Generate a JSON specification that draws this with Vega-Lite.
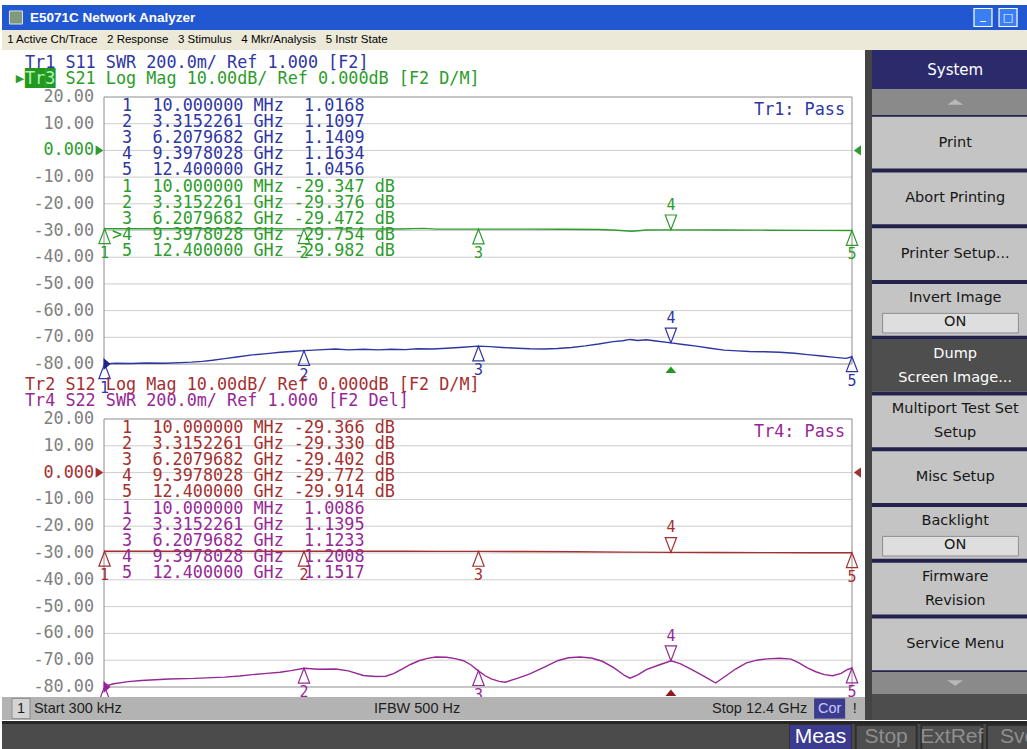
{
 "$schema": "https://vega.github.io/schema/vega-lite/v6.json",
 "background": "#ffffff",
 "padding": {"top": 5, "left": 0, "right": 0, "bottom": 0},
 "spacing": 0,
 "config": {"view": {"stroke": null}, "text": {"font": "DejaVu Sans"}},
 "datasets": {
  "one": [{"k": 1}],
  "grid": [{"v": 10}, {"v": 0}, {"v": -10}, {"v": -20}, {"v": -30}, {"v": -40}, {"v": -50}, {"v": -60}, {"v": -70}],
  "ylab": [{"v": 20, "lab": "20.00"}, {"v": 10, "lab": "10.00"}, {"v": 0, "lab": "0.000"}, {"v": -10, "lab": "-10.00"}, {"v": -20, "lab": "-20.00"}, {"v": -30, "lab": "-30.00"}, {"v": -40, "lab": "-40.00"}, {"v": -50, "lab": "-50.00"}, {"v": -60, "lab": "-60.00"}, {"v": -70, "lab": "-70.00"}, {"v": -80, "lab": "-80.00"}],
  "top": [
   {"tr":"Tr1","f":0.0003,"v":-80.0},{"tr":"Tr1","f":0.2,"v":-79.7},{"tr":"Tr1","f":0.45,"v":-79.8},{"tr":"Tr1","f":0.7,"v":-79.6},{"tr":"Tr1","f":1.0,"v":-79.7},{"tr":"Tr1","f":1.26,"v":-79.5},{"tr":"Tr1","f":1.45,"v":-79.3},{"tr":"Tr1","f":1.63,"v":-79.0},{"tr":"Tr1","f":1.8,"v":-78.6},{"tr":"Tr1","f":2.0,"v":-78.0},{"tr":"Tr1","f":2.2,"v":-77.4},{"tr":"Tr1","f":2.46,"v":-76.6},{"tr":"Tr1","f":2.7,"v":-76.1},{"tr":"Tr1","f":2.92,"v":-75.6},{"tr":"Tr1","f":3.1,"v":-75.3},{"tr":"Tr1","f":3.32,"v":-75.0},{"tr":"Tr1","f":3.55,"v":-74.7},{"tr":"Tr1","f":3.84,"v":-74.4},{"tr":"Tr1","f":4.05,"v":-74.7},{"tr":"Tr1","f":4.3,"v":-74.5},{"tr":"Tr1","f":4.55,"v":-74.7},{"tr":"Tr1","f":4.76,"v":-74.5},{"tr":"Tr1","f":5.0,"v":-74.6},{"tr":"Tr1","f":5.2,"v":-74.3},{"tr":"Tr1","f":5.45,"v":-74.4},{"tr":"Tr1","f":5.68,"v":-74.1},{"tr":"Tr1","f":5.95,"v":-73.7},{"tr":"Tr1","f":6.2,"v":-73.3},{"tr":"Tr1","f":6.4,"v":-73.5},{"tr":"Tr1","f":6.6,"v":-73.8},{"tr":"Tr1","f":6.85,"v":-74.1},{"tr":"Tr1","f":7.06,"v":-74.3},{"tr":"Tr1","f":7.3,"v":-74.4},{"tr":"Tr1","f":7.52,"v":-74.2},{"tr":"Tr1","f":7.75,"v":-73.8},{"tr":"Tr1","f":7.98,"v":-73.2},{"tr":"Tr1","f":8.2,"v":-72.5},{"tr":"Tr1","f":8.44,"v":-71.6},{"tr":"Tr1","f":8.6,"v":-71.3},{"tr":"Tr1","f":8.72,"v":-70.8},{"tr":"Tr1","f":8.85,"v":-71.2},{"tr":"Tr1","f":8.99,"v":-70.9},{"tr":"Tr1","f":9.15,"v":-71.4},{"tr":"Tr1","f":9.4,"v":-72.1},{"tr":"Tr1","f":9.6,"v":-72.7},{"tr":"Tr1","f":9.82,"v":-73.3},{"tr":"Tr1","f":10.05,"v":-74.1},{"tr":"Tr1","f":10.28,"v":-74.8},{"tr":"Tr1","f":10.5,"v":-75.1},{"tr":"Tr1","f":10.7,"v":-75.3},{"tr":"Tr1","f":10.95,"v":-75.4},{"tr":"Tr1","f":11.2,"v":-75.6},{"tr":"Tr1","f":11.45,"v":-76.0},{"tr":"Tr1","f":11.66,"v":-76.5},{"tr":"Tr1","f":11.9,"v":-77.0},{"tr":"Tr1","f":12.12,"v":-77.5},{"tr":"Tr1","f":12.3,"v":-77.9},{"tr":"Tr1","f":12.4,"v":-77.3},
   {"tr":"Tr3","f":0.0003,"v":-29.35},{"tr":"Tr3","f":0.8,"v":-29.36},{"tr":"Tr3","f":1.6,"v":-29.36},{"tr":"Tr3","f":2.4,"v":-29.37},{"tr":"Tr3","f":3.3152,"v":-29.38},{"tr":"Tr3","f":4.2,"v":-29.4},{"tr":"Tr3","f":4.9,"v":-29.45},{"tr":"Tr3","f":5.3,"v":-29.2},{"tr":"Tr3","f":5.5,"v":-29.5},{"tr":"Tr3","f":6.208,"v":-29.47},{"tr":"Tr3","f":7.0,"v":-29.5},{"tr":"Tr3","f":7.6,"v":-29.55},{"tr":"Tr3","f":8.2,"v":-29.6},{"tr":"Tr3","f":8.5,"v":-29.9},{"tr":"Tr3","f":8.75,"v":-30.3},{"tr":"Tr3","f":9.0,"v":-29.8},{"tr":"Tr3","f":9.3978,"v":-29.75},{"tr":"Tr3","f":10.2,"v":-29.8},{"tr":"Tr3","f":11.0,"v":-29.88},{"tr":"Tr3","f":11.8,"v":-29.94},{"tr":"Tr3","f":12.4,"v":-29.98}
  ],
  "bot": [
   {"tr":"Tr2","f":0.0003,"v":-29.37},{"tr":"Tr2","f":0.8,"v":-29.35},{"tr":"Tr2","f":1.6,"v":-29.34},{"tr":"Tr2","f":2.4,"v":-29.33},{"tr":"Tr2","f":3.3152,"v":-29.33},{"tr":"Tr2","f":4.2,"v":-29.34},{"tr":"Tr2","f":5.0,"v":-29.36},{"tr":"Tr2","f":5.6,"v":-29.38},{"tr":"Tr2","f":6.208,"v":-29.4},{"tr":"Tr2","f":7.0,"v":-29.45},{"tr":"Tr2","f":7.8,"v":-29.55},{"tr":"Tr2","f":8.6,"v":-29.68},{"tr":"Tr2","f":9.3978,"v":-29.77},{"tr":"Tr2","f":10.2,"v":-29.82},{"tr":"Tr2","f":11.0,"v":-29.86},{"tr":"Tr2","f":11.8,"v":-29.9},{"tr":"Tr2","f":12.4,"v":-29.91},
   {"tr":"Tr4","f":0.0003,"v":-79.8},{"tr":"Tr4","f":0.16,"v":-78.8},{"tr":"Tr4","f":0.4,"v":-78.0},{"tr":"Tr4","f":0.62,"v":-77.6},{"tr":"Tr4","f":0.85,"v":-77.3},{"tr":"Tr4","f":1.08,"v":-77.0},{"tr":"Tr4","f":1.5,"v":-76.8},{"tr":"Tr4","f":2.0,"v":-76.3},{"tr":"Tr4","f":2.25,"v":-75.9},{"tr":"Tr4","f":2.46,"v":-75.4},{"tr":"Tr4","f":2.7,"v":-74.9},{"tr":"Tr4","f":2.92,"v":-74.5},{"tr":"Tr4","f":3.1,"v":-73.9},{"tr":"Tr4","f":3.32,"v":-73.0},{"tr":"Tr4","f":3.55,"v":-73.4},{"tr":"Tr4","f":3.84,"v":-73.3},{"tr":"Tr4","f":4.05,"v":-74.0},{"tr":"Tr4","f":4.3,"v":-75.7},{"tr":"Tr4","f":4.5,"v":-76.1},{"tr":"Tr4","f":4.67,"v":-76.0},{"tr":"Tr4","f":4.8,"v":-75.0},{"tr":"Tr4","f":4.94,"v":-73.3},{"tr":"Tr4","f":5.08,"v":-71.6},{"tr":"Tr4","f":5.22,"v":-70.2},{"tr":"Tr4","f":5.36,"v":-69.3},{"tr":"Tr4","f":5.5,"v":-68.8},{"tr":"Tr4","f":5.68,"v":-68.9},{"tr":"Tr4","f":5.82,"v":-69.4},{"tr":"Tr4","f":5.96,"v":-70.2},{"tr":"Tr4","f":6.08,"v":-71.7},{"tr":"Tr4","f":6.2,"v":-73.9},{"tr":"Tr4","f":6.32,"v":-75.8},{"tr":"Tr4","f":6.42,"v":-77.0},{"tr":"Tr4","f":6.55,"v":-77.9},{"tr":"Tr4","f":6.65,"v":-78.2},{"tr":"Tr4","f":6.85,"v":-76.8},{"tr":"Tr4","f":7.06,"v":-75.1},{"tr":"Tr4","f":7.3,"v":-72.6},{"tr":"Tr4","f":7.52,"v":-70.2},{"tr":"Tr4","f":7.7,"v":-69.1},{"tr":"Tr4","f":7.89,"v":-68.8},{"tr":"Tr4","f":8.08,"v":-69.2},{"tr":"Tr4","f":8.26,"v":-70.4},{"tr":"Tr4","f":8.45,"v":-72.8},{"tr":"Tr4","f":8.63,"v":-75.7},{"tr":"Tr4","f":8.72,"v":-76.7},{"tr":"Tr4","f":8.85,"v":-75.5},{"tr":"Tr4","f":8.99,"v":-73.5},{"tr":"Tr4","f":9.2,"v":-71.8},{"tr":"Tr4","f":9.4,"v":-70.2},{"tr":"Tr4","f":9.55,"v":-71.3},{"tr":"Tr4","f":9.73,"v":-73.3},{"tr":"Tr4","f":9.95,"v":-76.0},{"tr":"Tr4","f":10.14,"v":-78.5},{"tr":"Tr4","f":10.3,"v":-76.0},{"tr":"Tr4","f":10.47,"v":-73.3},{"tr":"Tr4","f":10.65,"v":-71.0},{"tr":"Tr4","f":10.84,"v":-69.9},{"tr":"Tr4","f":11.0,"v":-69.5},{"tr":"Tr4","f":11.2,"v":-69.3},{"tr":"Tr4","f":11.39,"v":-69.6},{"tr":"Tr4","f":11.52,"v":-71.0},{"tr":"Tr4","f":11.66,"v":-72.9},{"tr":"Tr4","f":11.8,"v":-74.3},{"tr":"Tr4","f":11.94,"v":-75.4},{"tr":"Tr4","f":12.08,"v":-75.8},{"tr":"Tr4","f":12.22,"v":-74.9},{"tr":"Tr4","f":12.32,"v":-73.5},{"tr":"Tr4","f":12.4,"v":-72.9}
  ],
  "mk_top": [
   {"tr":"Tr1","n":"1","f":0.01,"v":-79.9,"dir":"up"},{"tr":"Tr1","n":"2","f":3.3152,"v":-75.0,"dir":"up"},{"tr":"Tr1","n":"3","f":6.208,"v":-73.3,"dir":"up"},{"tr":"Tr1","n":"4","f":9.3978,"v":-72.1,"dir":"down"},{"tr":"Tr1","n":"5","f":12.4,"v":-77.3,"dir":"up"},
   {"tr":"Tr3","n":"1","f":0.01,"v":-29.35,"dir":"up"},{"tr":"Tr3","n":"2","f":3.3152,"v":-29.38,"dir":"up"},{"tr":"Tr3","n":"3","f":6.208,"v":-29.47,"dir":"up"},{"tr":"Tr3","n":"4","f":9.3978,"v":-29.75,"dir":"down"},{"tr":"Tr3","n":"5","f":12.4,"v":-29.98,"dir":"up"}
  ],
  "mk_bot": [
   {"tr":"Tr2","n":"1","f":0.01,"v":-29.37,"dir":"up"},{"tr":"Tr2","n":"2","f":3.3152,"v":-29.33,"dir":"up"},{"tr":"Tr2","n":"3","f":6.208,"v":-29.4,"dir":"up"},{"tr":"Tr2","n":"4","f":9.3978,"v":-29.77,"dir":"down"},{"tr":"Tr2","n":"5","f":12.4,"v":-29.91,"dir":"up"},
   {"tr":"Tr4","n":"1","f":0.01,"v":-79.8,"dir":"up"},{"tr":"Tr4","n":"2","f":3.3152,"v":-73.0,"dir":"up"},{"tr":"Tr4","n":"3","f":6.208,"v":-73.9,"dir":"up"},{"tr":"Tr4","n":"4","f":9.3978,"v":-70.2,"dir":"down"},{"tr":"Tr4","n":"5","f":12.4,"v":-72.9,"dir":"up"}
  ],
  "tab_top": [
   {"row":1,"tr":"Tr1","text":"\u200b\u00a01\u00a0\u00a010.000000\u00a0MHz\u00a0\u00a01.0168"},
   {"row":2,"tr":"Tr1","text":"\u200b\u00a02\u00a0\u00a03.3152261\u00a0GHz\u00a0\u00a01.1097"},
   {"row":3,"tr":"Tr1","text":"\u200b\u00a03\u00a0\u00a06.2079682\u00a0GHz\u00a0\u00a01.1409"},
   {"row":4,"tr":"Tr1","text":"\u200b\u00a04\u00a0\u00a09.3978028\u00a0GHz\u00a0\u00a01.1634"},
   {"row":5,"tr":"Tr1","text":"\u200b\u00a05\u00a0\u00a012.400000\u00a0GHz\u00a0\u00a01.0456"},
   {"row":6,"tr":"Tr3","text":"\u200b\u00a01\u00a0\u00a010.000000\u00a0MHz\u00a0-29.347\u00a0dB"},
   {"row":7,"tr":"Tr3","text":"\u200b\u00a02\u00a0\u00a03.3152261\u00a0GHz\u00a0-29.376\u00a0dB"},
   {"row":8,"tr":"Tr3","text":"\u200b\u00a03\u00a0\u00a06.2079682\u00a0GHz\u00a0-29.472\u00a0dB"},
   {"row":9,"tr":"Tr3","text":">4\u00a0\u00a09.3978028\u00a0GHz\u00a0-29.754\u00a0dB"},
   {"row":10,"tr":"Tr3","text":"\u200b\u00a05\u00a0\u00a012.400000\u00a0GHz\u00a0-29.982\u00a0dB"}
  ],
  "tab_bot": [
   {"row":1,"tr":"Tr2","text":"\u200b\u00a01\u00a0\u00a010.000000\u00a0MHz\u00a0-29.366\u00a0dB"},
   {"row":2,"tr":"Tr2","text":"\u200b\u00a02\u00a0\u00a03.3152261\u00a0GHz\u00a0-29.330\u00a0dB"},
   {"row":3,"tr":"Tr2","text":"\u200b\u00a03\u00a0\u00a06.2079682\u00a0GHz\u00a0-29.402\u00a0dB"},
   {"row":4,"tr":"Tr2","text":"\u200b\u00a04\u00a0\u00a09.3978028\u00a0GHz\u00a0-29.772\u00a0dB"},
   {"row":5,"tr":"Tr2","text":"\u200b\u00a05\u00a0\u00a012.400000\u00a0GHz\u00a0-29.914\u00a0dB"},
   {"row":6,"tr":"Tr4","text":"\u200b\u00a01\u00a0\u00a010.000000\u00a0MHz\u00a0\u00a01.0086"},
   {"row":7,"tr":"Tr4","text":"\u200b\u00a02\u00a0\u00a03.3152261\u00a0GHz\u00a0\u00a01.1395"},
   {"row":8,"tr":"Tr4","text":"\u200b\u00a03\u00a0\u00a06.2079682\u00a0GHz\u00a0\u00a01.1233"},
   {"row":9,"tr":"Tr4","text":"\u200b\u00a04\u00a0\u00a09.3978028\u00a0GHz\u00a0\u00a01.2008"},
   {"row":10,"tr":"Tr4","text":"\u200b\u00a05\u00a0\u00a012.400000\u00a0GHz\u00a0\u00a01.1517"}
  ],
  "hdr1": [
   {"line":1,"tr":"Tr1","text":"Tr1\u00a0S11\u00a0SWR\u00a0200.0m/\u00a0Ref\u00a01.000\u00a0[F2]"},
   {"line":2,"tr":"Tr3","text":"\u200b\u00a0\u00a0\u00a0\u00a0S21\u00a0Log\u00a0Mag\u00a010.00dB/\u00a0Ref\u00a00.000dB\u00a0[F2\u00a0D/M]"}
  ],
  "hdr2": [
   {"line":1,"tr":"Tr2","text":"Tr2\u00a0S12\u00a0Log\u00a0Mag\u00a010.00dB/\u00a0Ref\u00a00.000dB\u00a0[F2\u00a0D/M]"},
   {"line":2,"tr":"Tr4","text":"Tr4\u00a0S22\u00a0SWR\u00a0200.0m/\u00a0Ref\u00a01.000\u00a0[F2\u00a0Del]"}
  ],
  "keys": [
   {"key":"k01","label":"Print","state":"normal","toggle":""},
   {"key":"k02","label":"Abort Printing","state":"normal","toggle":""},
   {"key":"k03","label":"Printer Setup...","state":"normal","toggle":""},
   {"key":"k04","label":"Invert Image\nON","state":"normal","toggle":"ON"},
   {"key":"k05","label":"Dump\nScreen Image...","state":"selected","toggle":""},
   {"key":"k06","label":"Multiport Test Set\nSetup","state":"normal","toggle":""},
   {"key":"k07","label":"Misc Setup","state":"normal","toggle":""},
   {"key":"k08","label":"Backlight\nON","state":"normal","toggle":"ON"},
   {"key":"k09","label":"Firmware\nRevision","state":"normal","toggle":""},
   {"key":"k10","label":"Service Menu","state":"normal","toggle":""}
  ],
  "bb": [{"item":"Meas"},{"item":"Stop"},{"item":"ExtRef"},{"item":"Svc"}]
 },
 "vconcat": [
  {
   "width": 1027, "height": 25,
   "view": {"fill": "#2157d0", "stroke": null},
   "data": {"name": "one"},
   "layer": [
    {"mark": {"type": "point", "shape": "square", "size": 170, "filled": true, "fill": "#7e9a7a", "stroke": "#e0e0e0", "strokeWidth": 1, "opacity": 1},
     "encoding": {"x": {"datum": 0.0136, "type": "quantitative", "scale": {"domain": [0, 1], "nice": false, "zero": false}, "axis": null}, "y": {"datum": 0.5, "type": "quantitative", "scale": {"domain": [0, 1], "nice": false, "zero": false}, "axis": null}}},
    {"mark": {"type": "text", "align": "left", "baseline": "middle", "font": "Liberation Sans", "fontWeight": "bold", "fontSize": 13.5, "fill": "#ffffff"},
     "encoding": {"x": {"datum": 0.0273, "type": "quantitative", "axis": null}, "y": {"datum": 0.5, "type": "quantitative", "axis": null}, "text": {"value": "E5071C Network Analyzer"}}},
    {"mark": {"type": "point", "shape": "square", "size": 324, "filled": true, "fill": "#3a7ef4", "stroke": "#ffffff", "strokeWidth": 1.2, "opacity": 1},
     "encoding": {"x": {"datum": 0.9552, "type": "quantitative", "axis": null}, "y": {"datum": 0.5, "type": "quantitative", "axis": null}}},
    {"mark": {"type": "point", "shape": "square", "size": 324, "filled": true, "fill": "#3a7ef4", "stroke": "#ffffff", "strokeWidth": 1.2, "opacity": 1},
     "encoding": {"x": {"datum": 0.9796, "type": "quantitative", "axis": null}, "y": {"datum": 0.5, "type": "quantitative", "axis": null}}},
    {"mark": {"type": "text", "align": "center", "baseline": "middle", "font": "DejaVu Sans", "fontWeight": "bold", "fontSize": 11, "fill": "#ffffff", "dy": -2},
     "encoding": {"x": {"datum": 0.9552, "type": "quantitative", "axis": null}, "y": {"datum": 0.5, "type": "quantitative", "axis": null}, "text": {"value": "_"}}},
    {"mark": {"type": "text", "align": "center", "baseline": "middle", "font": "DejaVu Sans", "fontSize": 11, "fill": "#ffffff"},
     "encoding": {"x": {"datum": 0.9796, "type": "quantitative", "axis": null}, "y": {"datum": 0.5, "type": "quantitative", "axis": null}, "text": {"value": "□"}}}
   ]
  },
  {
   "width": 1027, "height": 20,
   "view": {"fill": "#ece9d8", "stroke": null},
   "data": {"name": "one"},
   "mark": {"type": "text", "align": "left", "baseline": "middle", "font": "Liberation Sans", "fontSize": 11.5, "fill": "#000000"},
   "encoding": {"x": {"datum": 0.005, "type": "quantitative", "scale": {"domain": [0, 1], "nice": false, "zero": false}, "axis": null}, "y": {"datum": 0.5, "type": "quantitative", "scale": {"domain": [0, 1], "nice": false, "zero": false}, "axis": null}, "text": {"value": "1 Active Ch/Trace\u00a0\u00a0\u00a02 Response\u00a0\u00a0\u00a03 Stimulus\u00a0\u00a0\u00a04 Mkr/Analysis\u00a0\u00a0\u00a05 Instr State"}}
  },
  {
   "spacing": 0,
   "hconcat": [
    {
     "spacing": 0,
     "bounds": "flush",
     "vconcat": [
      {
       "width": 863, "height": 47,
       "data": {"name": "hdr1"},
       "layer": [
        {"transform": [{"filter": "datum.tr === 'Tr3'"}],
         "mark": {"type": "text", "align": "left", "baseline": "middle", "font": "DejaVu Sans Mono", "fontSize": 16.8, "fill": "#1f991f"},
         "encoding": {"x": {"datum": 0, "type": "quantitative", "scale": {"domain": [0, 80], "range": [23, 831.8], "nice": false, "zero": false}, "axis": null}, "y": {"field": "line", "type": "ordinal", "scale": {"type": "point", "domain": [1, 2], "range": [4.5, 36.5], "padding": 0.5}, "axis": null}, "text": {"value": "███"}}},
        {"mark": {"type": "text", "align": "left", "baseline": "middle", "font": "DejaVu Sans Mono", "fontSize": 16.8},
         "encoding": {"x": {"datum": 0, "type": "quantitative", "scale": {"domain": [0, 80], "range": [23, 831.8], "nice": false, "zero": false}, "axis": null}, "y": {"field": "line", "type": "ordinal", "scale": {"type": "point", "domain": [1, 2], "range": [4.5, 36.5], "padding": 0.5}, "axis": null}, "text": {"field": "text"}, "color": {"field": "tr", "type": "nominal", "scale": {"domain": ["Tr1", "Tr2", "Tr3", "Tr4"], "range": ["#2e36a3", "#a52f2f", "#2c9c2c", "#962896"]}, "legend": null}}},
        {"transform": [{"filter": "datum.tr === 'Tr3'"}],
         "mark": {"type": "text", "align": "left", "baseline": "middle", "font": "DejaVu Sans Mono", "fontSize": 16.8, "fill": "#b6f0b6"},
         "encoding": {"x": {"datum": 0, "type": "quantitative", "axis": null}, "y": {"field": "line", "type": "ordinal", "axis": null}, "text": {"field": "tr"}}},
        {"transform": [{"filter": "datum.tr === 'Tr3'"}],
         "mark": {"type": "text", "align": "center", "baseline": "middle", "font": "DejaVu Sans", "fontSize": 11, "fill": "#2c9c2c"},
         "encoding": {"x": {"datum": -0.5, "type": "quantitative", "axis": null}, "y": {"field": "line", "type": "ordinal", "axis": null}, "text": {"value": "▶"}}}
       ]
      },
      {
       "width": 863, "height": 267,
       "resolve": {"scale": {"y": "independent"}},
       "layer": [
        {
         "layer": [
          {"data": {"name": "grid"}, "mark": {"type": "rule", "stroke": "#cdcdcd", "strokeWidth": 1},
           "encoding": {"x": {"datum": 0.0003, "type": "quantitative", "scale": {"domain": [0.0003, 12.4], "range": [102, 850], "nice": false, "zero": false}, "axis": null}, "x2": {"datum": 12.4}, "y": {"field": "v", "type": "quantitative", "scale": {"domain": [-80, 20], "nice": false, "zero": false}, "axis": null}}},
          {"data": {"name": "one"}, "mark": {"type": "rect", "fill": "transparent", "stroke": "#8c8c8c", "strokeWidth": 1},
           "encoding": {"x": {"datum": 0.0003, "type": "quantitative", "axis": null}, "x2": {"datum": 12.4}, "y": {"datum": -80, "type": "quantitative", "axis": null}, "y2": {"datum": 20}}},
          {"data": {"name": "ylab"}, "transform": [{"filter": "datum.v !== 0"}], "mark": {"type": "text", "align": "right", "baseline": "middle", "font": "DejaVu Sans Mono", "fontSize": 16.8, "fill": "#808080", "dx": -10},
           "encoding": {"x": {"datum": 0.0003, "type": "quantitative", "axis": null}, "y": {"field": "v", "type": "quantitative", "axis": null}, "text": {"field": "lab"}}},
          {"data": {"name": "ylab"}, "transform": [{"filter": "datum.v === 0"}], "mark": {"type": "text", "align": "right", "baseline": "middle", "font": "DejaVu Sans Mono", "fontSize": 16.8, "fill": "#2c9c2c", "dx": -10},
           "encoding": {"x": {"datum": 0.0003, "type": "quantitative", "axis": null}, "y": {"field": "v", "type": "quantitative", "axis": null}, "text": {"field": "lab"}}},
          {"data": {"name": "top"}, "mark": {"type": "line", "strokeWidth": 1.4},
           "encoding": {
            "x": {"field": "f", "type": "quantitative", "scale": {"domain": [0.0003, 12.4], "range": [102, 850], "nice": false, "zero": false}, "axis": {"values": [1.24, 2.48, 3.72, 4.96, 6.2, 7.44, 8.68, 9.92, 11.16], "grid": true, "gridColor": "#cdcdcd", "gridWidth": 1, "labels": false, "ticks": false, "domain": false, "title": null}},
            "y": {"field": "v", "type": "quantitative", "scale": {"domain": [-80, 20], "nice": false, "zero": false}, "axis": null},
            "color": {"field": "tr", "type": "nominal", "scale": {"domain": ["Tr1", "Tr2", "Tr3", "Tr4"], "range": ["#2e36a3", "#a52f2f", "#2c9c2c", "#962896"]}, "legend": null}}},
          {"data": {"name": "mk_top"}, "transform": [{"filter": "datum.dir === 'up'"}],
           "mark": {"type": "point", "shape": "M0,0L-0.42,1.1L0.42,1.1Z", "size": 729, "filled": false, "strokeWidth": 1.2, "opacity": 1},
           "encoding": {"x": {"field": "f", "type": "quantitative", "axis": null}, "y": {"field": "v", "type": "quantitative", "axis": null}, "color": {"field": "tr", "type": "nominal", "legend": null}}},
          {"data": {"name": "mk_top"}, "transform": [{"filter": "datum.dir === 'down'"}],
           "mark": {"type": "point", "shape": "M0,0L-0.42,-1.1L0.42,-1.1Z", "size": 729, "filled": false, "strokeWidth": 1.2, "opacity": 1},
           "encoding": {"x": {"field": "f", "type": "quantitative", "axis": null}, "y": {"field": "v", "type": "quantitative", "axis": null}, "color": {"field": "tr", "type": "nominal", "legend": null}}},
          {"data": {"name": "mk_top"}, "transform": [{"filter": "datum.dir === 'up'"}],
           "mark": {"type": "text", "font": "DejaVu Sans Mono", "fontSize": 15, "align": "center", "baseline": "middle", "dy": 24},
           "encoding": {"x": {"field": "f", "type": "quantitative", "axis": null}, "y": {"field": "v", "type": "quantitative", "axis": null}, "text": {"field": "n"}, "color": {"field": "tr", "type": "nominal", "legend": null}}},
          {"data": {"name": "mk_top"}, "transform": [{"filter": "datum.dir === 'down'"}],
           "mark": {"type": "text", "font": "DejaVu Sans Mono", "fontSize": 15, "align": "center", "baseline": "middle", "dy": -25},
           "encoding": {"x": {"field": "f", "type": "quantitative", "axis": null}, "y": {"field": "v", "type": "quantitative", "axis": null}, "text": {"field": "n"}, "color": {"field": "tr", "type": "nominal", "legend": null}}},
          {"data": {"name": "one"}, "mark": {"type": "point", "shape": "M0,0.2L-0.45,0.75L0.45,0.75Z", "size": 576, "filled": true, "fill": "#1f9a1f", "strokeWidth": 0, "opacity": 1},
           "encoding": {"x": {"datum": 9.3978, "type": "quantitative", "axis": null}, "y": {"datum": -80, "type": "quantitative", "axis": null}}},
          {"data": {"name": "one"}, "mark": {"type": "point", "shape": "M-0.05,-0.6L0.65,0L-0.05,0.6Z", "size": 400, "filled": true, "fill": "#1e2488", "strokeWidth": 0, "opacity": 1},
           "encoding": {"x": {"datum": 0.0003, "type": "quantitative", "axis": null}, "y": {"datum": -80, "type": "quantitative", "axis": null}}},
          {"data": {"name": "one"}, "mark": {"type": "point", "shape": "M-1.4,-0.85L-0.1,0L-1.4,0.85Z", "size": 144, "filled": true, "fill": "#2c9c2c", "strokeWidth": 0, "opacity": 1},
           "encoding": {"x": {"datum": 0.0003, "type": "quantitative", "axis": null}, "y": {"datum": 0, "type": "quantitative", "axis": null}}},
          {"data": {"name": "one"}, "mark": {"type": "point", "shape": "M1.5,-0.85L0.3,0L1.5,0.85Z", "size": 144, "filled": true, "fill": "#2c9c2c", "strokeWidth": 0, "opacity": 1},
           "encoding": {"x": {"datum": 12.4, "type": "quantitative", "axis": null}, "y": {"datum": 0, "type": "quantitative", "axis": null}}},
          {"data": {"values": [{"tr": "Tr1", "t": "Tr1: Pass"}]}, "mark": {"type": "text", "align": "right", "baseline": "middle", "font": "DejaVu Sans Mono", "fontSize": 16.8, "dx": -7, "dy": 13},
           "encoding": {"x": {"datum": 12.4, "type": "quantitative", "axis": null}, "y": {"datum": 20, "type": "quantitative", "axis": null}, "text": {"field": "t"}, "color": {"field": "tr", "type": "nominal", "legend": null}}}
         ]
        },
        {"data": {"name": "tab_top"},
         "mark": {"type": "text", "align": "left", "baseline": "middle", "font": "DejaVu Sans Mono", "fontSize": 16.8, "dx": 8},
         "encoding": {"x": {"datum": 0.0003, "type": "quantitative", "axis": null}, "y": {"field": "row", "type": "ordinal", "scale": {"type": "point", "domain": [1, 2, 3, 4, 5, 6, 7, 8, 9, 10], "range": [1, 162], "padding": 0.5}, "axis": null}, "text": {"field": "text"}, "color": {"field": "tr", "type": "nominal", "legend": null}}}
       ]
      },
      {
       "width": 863, "height": 55,
       "data": {"name": "hdr2"},
       "mark": {"type": "text", "align": "left", "baseline": "middle", "font": "DejaVu Sans Mono", "fontSize": 16.8},
       "encoding": {"x": {"datum": 0, "type": "quantitative", "scale": {"domain": [0, 80], "range": [23, 831.8], "nice": false, "zero": false}, "axis": null}, "y": {"field": "line", "type": "ordinal", "scale": {"type": "point", "domain": [1, 2], "range": [13, 45], "padding": 0.5}, "axis": null}, "text": {"field": "text"}, "color": {"field": "tr", "type": "nominal", "scale": {"domain": ["Tr1", "Tr2", "Tr3", "Tr4"], "range": ["#2e36a3", "#a52f2f", "#2c9c2c", "#962896"]}, "legend": null}}
      },
      {
       "width": 863, "height": 268,
       "resolve": {"scale": {"y": "independent"}},
       "layer": [
        {
         "layer": [
          {"data": {"name": "grid"}, "mark": {"type": "rule", "stroke": "#cdcdcd", "strokeWidth": 1},
           "encoding": {"x": {"datum": 0.0003, "type": "quantitative", "scale": {"domain": [0.0003, 12.4], "range": [102, 850], "nice": false, "zero": false}, "axis": null}, "x2": {"datum": 12.4}, "y": {"field": "v", "type": "quantitative", "scale": {"domain": [-80, 20], "nice": false, "zero": false}, "axis": null}}},
          {"data": {"name": "one"}, "mark": {"type": "rect", "fill": "transparent", "stroke": "#8c8c8c", "strokeWidth": 1},
           "encoding": {"x": {"datum": 0.0003, "type": "quantitative", "axis": null}, "x2": {"datum": 12.4}, "y": {"datum": -80, "type": "quantitative", "axis": null}, "y2": {"datum": 20}}},
          {"data": {"name": "ylab"}, "transform": [{"filter": "datum.v !== 0"}], "mark": {"type": "text", "align": "right", "baseline": "middle", "font": "DejaVu Sans Mono", "fontSize": 16.8, "fill": "#808080", "dx": -10},
           "encoding": {"x": {"datum": 0.0003, "type": "quantitative", "axis": null}, "y": {"field": "v", "type": "quantitative", "axis": null}, "text": {"field": "lab"}}},
          {"data": {"name": "ylab"}, "transform": [{"filter": "datum.v === 0"}], "mark": {"type": "text", "align": "right", "baseline": "middle", "font": "DejaVu Sans Mono", "fontSize": 16.8, "fill": "#a52f2f", "dx": -10},
           "encoding": {"x": {"datum": 0.0003, "type": "quantitative", "axis": null}, "y": {"field": "v", "type": "quantitative", "axis": null}, "text": {"field": "lab"}}},
          {"data": {"name": "bot"}, "mark": {"type": "line", "strokeWidth": 1.4},
           "encoding": {
            "x": {"field": "f", "type": "quantitative", "scale": {"domain": [0.0003, 12.4], "range": [102, 850], "nice": false, "zero": false}, "axis": {"values": [1.24, 2.48, 3.72, 4.96, 6.2, 7.44, 8.68, 9.92, 11.16], "grid": true, "gridColor": "#cdcdcd", "gridWidth": 1, "labels": false, "ticks": false, "domain": false, "title": null}},
            "y": {"field": "v", "type": "quantitative", "scale": {"domain": [-80, 20], "nice": false, "zero": false}, "axis": null},
            "color": {"field": "tr", "type": "nominal", "scale": {"domain": ["Tr1", "Tr2", "Tr3", "Tr4"], "range": ["#2e36a3", "#a52f2f", "#2c9c2c", "#962896"]}, "legend": null}}},
          {"data": {"name": "mk_bot"}, "transform": [{"filter": "datum.dir === 'up'"}],
           "mark": {"type": "point", "shape": "M0,0L-0.42,1.1L0.42,1.1Z", "size": 729, "filled": false, "strokeWidth": 1.2, "opacity": 1},
           "encoding": {"x": {"field": "f", "type": "quantitative", "axis": null}, "y": {"field": "v", "type": "quantitative", "axis": null}, "color": {"field": "tr", "type": "nominal", "legend": null}}},
          {"data": {"name": "mk_bot"}, "transform": [{"filter": "datum.dir === 'down'"}],
           "mark": {"type": "point", "shape": "M0,0L-0.42,-1.1L0.42,-1.1Z", "size": 729, "filled": false, "strokeWidth": 1.2, "opacity": 1},
           "encoding": {"x": {"field": "f", "type": "quantitative", "axis": null}, "y": {"field": "v", "type": "quantitative", "axis": null}, "color": {"field": "tr", "type": "nominal", "legend": null}}},
          {"data": {"name": "mk_bot"}, "transform": [{"filter": "datum.dir === 'up'"}],
           "mark": {"type": "text", "font": "DejaVu Sans Mono", "fontSize": 15, "align": "center", "baseline": "middle", "dy": 24},
           "encoding": {"x": {"field": "f", "type": "quantitative", "axis": null}, "y": {"field": "v", "type": "quantitative", "axis": null}, "text": {"field": "n"}, "color": {"field": "tr", "type": "nominal", "legend": null}}},
          {"data": {"name": "mk_bot"}, "transform": [{"filter": "datum.dir === 'down'"}],
           "mark": {"type": "text", "font": "DejaVu Sans Mono", "fontSize": 15, "align": "center", "baseline": "middle", "dy": -25},
           "encoding": {"x": {"field": "f", "type": "quantitative", "axis": null}, "y": {"field": "v", "type": "quantitative", "axis": null}, "text": {"field": "n"}, "color": {"field": "tr", "type": "nominal", "legend": null}}},
          {"data": {"name": "one"}, "mark": {"type": "point", "shape": "M0,0.2L-0.45,0.75L0.45,0.75Z", "size": 576, "filled": true, "fill": "#8e1c1c", "strokeWidth": 0, "opacity": 1},
           "encoding": {"x": {"datum": 9.3978, "type": "quantitative", "axis": null}, "y": {"datum": -80, "type": "quantitative", "axis": null}}},
          {"data": {"name": "one"}, "mark": {"type": "point", "shape": "M-0.05,-0.6L0.65,0L-0.05,0.6Z", "size": 400, "filled": true, "fill": "#9a1f9a", "strokeWidth": 0, "opacity": 1},
           "encoding": {"x": {"datum": 0.0003, "type": "quantitative", "axis": null}, "y": {"datum": -80, "type": "quantitative", "axis": null}}},
          {"data": {"name": "one"}, "mark": {"type": "point", "shape": "M-1.4,-0.85L-0.1,0L-1.4,0.85Z", "size": 144, "filled": true, "fill": "#a52f2f", "strokeWidth": 0, "opacity": 1},
           "encoding": {"x": {"datum": 0.0003, "type": "quantitative", "axis": null}, "y": {"datum": 0, "type": "quantitative", "axis": null}}},
          {"data": {"name": "one"}, "mark": {"type": "point", "shape": "M1.5,-0.85L0.3,0L1.5,0.85Z", "size": 144, "filled": true, "fill": "#a52f2f", "strokeWidth": 0, "opacity": 1},
           "encoding": {"x": {"datum": 12.4, "type": "quantitative", "axis": null}, "y": {"datum": 0, "type": "quantitative", "axis": null}}},
          {"data": {"values": [{"tr": "Tr4", "t": "Tr4: Pass"}]}, "mark": {"type": "text", "align": "right", "baseline": "middle", "font": "DejaVu Sans Mono", "fontSize": 16.8, "dx": -7, "dy": 13},
           "encoding": {"x": {"datum": 12.4, "type": "quantitative", "axis": null}, "y": {"datum": 20, "type": "quantitative", "axis": null}, "text": {"field": "t"}, "color": {"field": "tr", "type": "nominal", "legend": null}}}
         ]
        },
        {"data": {"name": "tab_bot"},
         "mark": {"type": "text", "align": "left", "baseline": "middle", "font": "DejaVu Sans Mono", "fontSize": 16.8, "dx": 8},
         "encoding": {"x": {"datum": 0.0003, "type": "quantitative", "axis": null}, "y": {"field": "row", "type": "ordinal", "scale": {"type": "point", "domain": [1, 2, 3, 4, 5, 6, 7, 8, 9, 10], "range": [1, 162], "padding": 0.5}, "axis": null}, "text": {"field": "text"}, "color": {"field": "tr", "type": "nominal", "legend": null}}}
       ]
      },
      {
       "width": 863, "height": 10,
       "data": {"name": "one"},
       "mark": {"type": "text"},
       "encoding": {"text": {"value": ""}}
      },
      {
       "width": 863, "height": 23,
       "view": {"fill": "#b3b3b3", "stroke": null},
       "data": {"name": "one"},
       "layer": [
        {"mark": {"type": "rect", "fill": "#d4d4d4", "stroke": "#8e8e8e", "strokeWidth": 1},
         "encoding": {"x": {"datum": 0.0116, "type": "quantitative", "scale": {"domain": [0, 1], "nice": false, "zero": false}, "axis": null}, "x2": {"datum": 0.0324}, "y": {"datum": 0.06, "type": "quantitative", "scale": {"domain": [0, 1], "nice": false, "zero": false}, "axis": null}, "y2": {"datum": 0.94}}},
        {"mark": {"type": "text", "align": "center", "baseline": "middle", "font": "Liberation Sans", "fontSize": 14.5, "fill": "#1e1e1e"},
         "encoding": {"x": {"datum": 0.022, "type": "quantitative", "axis": null}, "y": {"datum": 0.5, "type": "quantitative", "axis": null}, "text": {"value": "1"}}},
        {"mark": {"type": "text", "align": "left", "baseline": "middle", "font": "Liberation Sans", "fontSize": 14.5, "fill": "#1e1e1e"},
         "encoding": {"x": {"datum": 0.037, "type": "quantitative", "axis": null}, "y": {"datum": 0.5, "type": "quantitative", "axis": null}, "text": {"value": "Start 300 kHz"}}},
        {"mark": {"type": "text", "align": "center", "baseline": "middle", "font": "Liberation Sans", "fontSize": 14.5, "fill": "#1e1e1e"},
         "encoding": {"x": {"datum": 0.481, "type": "quantitative", "axis": null}, "y": {"datum": 0.5, "type": "quantitative", "axis": null}, "text": {"value": "IFBW 500 Hz"}}},
        {"mark": {"type": "text", "align": "right", "baseline": "middle", "font": "Liberation Sans", "fontSize": 14.5, "fill": "#1e1e1e"},
         "encoding": {"x": {"datum": 0.933, "type": "quantitative", "axis": null}, "y": {"datum": 0.5, "type": "quantitative", "axis": null}, "text": {"value": "Stop 12.4 GHz"}}},
        {"mark": {"type": "rect", "fill": "#3c3c8e"},
         "encoding": {"x": {"datum": 0.941, "type": "quantitative", "axis": null}, "x2": {"datum": 0.977}, "y": {"datum": 0.06, "type": "quantitative", "axis": null}, "y2": {"datum": 0.94}}},
        {"mark": {"type": "text", "align": "center", "baseline": "middle", "font": "Liberation Sans", "fontSize": 14.5, "fill": "#c8c8ff"},
         "encoding": {"x": {"datum": 0.959, "type": "quantitative", "axis": null}, "y": {"datum": 0.5, "type": "quantitative", "axis": null}, "text": {"value": "Cor"}}},
        {"mark": {"type": "text", "align": "center", "baseline": "middle", "font": "Liberation Sans", "fontSize": 14.5, "fill": "#1e1e1e"},
         "encoding": {"x": {"datum": 0.988, "type": "quantitative", "axis": null}, "y": {"datum": 0.5, "type": "quantitative", "axis": null}, "text": {"value": "!"}}}
       ]
      }
     ]
    },
    {
     "width": 7, "height": 670,
     "view": {"fill": "#444444", "stroke": null},
     "data": {"name": "one"},
     "mark": {"type": "text"},
     "encoding": {"text": {"value": ""}}
    },
    {
     "spacing": 0,
     "bounds": "flush",
     "vconcat": [
      {
       "width": 157, "height": 39,
       "view": {"fill": "#2b2b6b", "stroke": null},
       "data": {"name": "one"},
       "mark": {"type": "text", "align": "center", "baseline": "middle", "font": "DejaVu Sans", "fontSize": 15, "fill": "#ffffff"},
       "encoding": {"x": {"datum": 0.53, "type": "quantitative", "scale": {"domain": [0, 1], "nice": false, "zero": false}, "axis": null}, "y": {"datum": 0.5, "type": "quantitative", "scale": {"domain": [0, 1], "nice": false, "zero": false}, "axis": null}, "text": {"value": "System"}}
      },
      {
       "width": 157, "height": 26,
       "view": {"fill": "#8a8a8a", "stroke": null},
       "data": {"name": "one"},
       "mark": {"type": "point", "shape": "M0,-0.35L-1,0.35L1,0.35Z", "size": 256, "filled": true, "fill": "#b9b9b9", "strokeWidth": 0, "opacity": 1},
       "encoding": {"x": {"datum": 0.53, "type": "quantitative", "scale": {"domain": [0, 1], "nice": false, "zero": false}, "axis": null}, "y": {"datum": 0.5, "type": "quantitative", "scale": {"domain": [0, 1], "nice": false, "zero": false}, "axis": null}}
      },
      {
       "width": 157, "height": 557,
       "view": {"fill": "#22224c", "stroke": null},
       "data": {"name": "keys"},
       "layer": [
        {"mark": {"type": "rect", "fill": "#c4c4c4"},
         "encoding": {"x": {"datum": 0, "type": "quantitative", "scale": {"domain": [0, 1], "nice": false, "zero": false}, "axis": null}, "x2": {"datum": 1}, "y": {"field": "key", "type": "nominal", "scale": {"type": "band", "domain": ["k01", "k02", "k03", "k04", "k05", "k06", "k07", "k08", "k09", "k10"], "paddingInner": 0.07, "paddingOuter": 0.03}, "axis": null}}},
        {"transform": [{"filter": "datum.state === 'selected'"}], "mark": {"type": "rect", "fill": "#4e4e4e"},
         "encoding": {"x": {"datum": 0, "type": "quantitative", "axis": null}, "x2": {"datum": 1}, "y": {"field": "key", "type": "nominal", "axis": null}}},
        {"transform": [{"filter": "datum.toggle === 'ON'"}], "mark": {"type": "point", "shape": "M-0.97,0.05L0.97,0.05L0.97,0.33L-0.97,0.33Z", "size": 19600, "filled": true, "fill": "#dedede", "stroke": "#8e8e8e", "strokeWidth": 1, "opacity": 1},
         "encoding": {"x": {"datum": 0.5, "type": "quantitative", "axis": null}, "y": {"field": "key", "type": "nominal", "axis": null}}},
        {"transform": [{"filter": "datum.state !== 'selected' && !test(/\\n/, datum.label)"}], "mark": {"type": "text", "align": "center", "baseline": "middle", "font": "DejaVu Sans", "fontSize": 14.5, "fill": "#161616"},
         "encoding": {"x": {"datum": 0.53, "type": "quantitative", "axis": null}, "y": {"field": "key", "type": "nominal", "axis": null}, "text": {"field": "label"}}},
        {"transform": [{"filter": "datum.state !== 'selected' && test(/\\n/, datum.label)"}], "mark": {"type": "text", "align": "center", "baseline": "middle", "font": "DejaVu Sans", "fontSize": 14.5, "fill": "#161616", "lineBreak": "\n", "lineHeight": 24, "dy": -12},
         "encoding": {"x": {"datum": 0.53, "type": "quantitative", "axis": null}, "y": {"field": "key", "type": "nominal", "axis": null}, "text": {"field": "label"}}},
        {"transform": [{"filter": "datum.state === 'selected'"}], "mark": {"type": "text", "align": "center", "baseline": "middle", "font": "DejaVu Sans", "fontSize": 14.5, "fill": "#ffffff", "lineBreak": "\n", "lineHeight": 24, "dy": -12},
         "encoding": {"x": {"datum": 0.53, "type": "quantitative", "axis": null}, "y": {"field": "key", "type": "nominal", "axis": null}, "text": {"field": "label"}}}
       ]
      },
      {
       "width": 157, "height": 22,
       "view": {"fill": "#8a8a8a", "stroke": null},
       "data": {"name": "one"},
       "mark": {"type": "point", "shape": "M0,0.35L-1,-0.35L1,-0.35Z", "size": 256, "filled": true, "fill": "#b9b9b9", "strokeWidth": 0, "opacity": 1},
       "encoding": {"x": {"datum": 0.53, "type": "quantitative", "scale": {"domain": [0, 1], "nice": false, "zero": false}, "axis": null}, "y": {"datum": 0.5, "type": "quantitative", "scale": {"domain": [0, 1], "nice": false, "zero": false}, "axis": null}}
      },
      {
       "width": 157, "height": 26,
       "view": {"fill": "#4d4d4d", "stroke": null},
       "data": {"name": "one"},
       "mark": {"type": "text"},
       "encoding": {"text": {"value": ""}}
      }
     ]
    }
   ]
  },
  {
   "width": 1027, "height": 29,
   "view": {"fill": "#4b4b4b", "stroke": null},
   "data": {"name": "bb"},
   "layer": [
    {"mark": {"type": "rect", "fill": "#4e4e4e", "stroke": "#2f2f2f", "strokeWidth": 2, "clip": true},
     "encoding": {"x": {"field": "item", "type": "nominal", "scale": {"type": "band", "domain": ["Meas", "Stop", "ExtRef", "Svc"], "range": [788, 1046], "paddingInner": 0.07, "paddingOuter": 0}, "axis": null}, "y": {"datum": 0, "type": "quantitative", "scale": {"domain": [0, 1], "nice": false, "zero": false}, "axis": null}, "y2": {"datum": 0.86}}},
    {"transform": [{"filter": "datum.item === 'Meas'"}], "mark": {"type": "rect", "fill": "#3b3b8f", "clip": true},
     "encoding": {"x": {"field": "item", "type": "nominal", "axis": null}, "y": {"datum": 0, "type": "quantitative", "axis": null}, "y2": {"datum": 0.86}}},
    {"mark": {"type": "text", "align": "center", "baseline": "middle", "font": "Liberation Sans", "fontSize": 21, "clip": true},
     "encoding": {"x": {"field": "item", "type": "nominal", "axis": null}, "y": {"datum": 0.45, "type": "quantitative", "axis": null}, "text": {"field": "item"}, "color": {"condition": {"test": "datum.item === 'Meas'", "value": "#ffffff"}, "value": "#8e8e8e"}}},
    {"data": {"name": "one"}, "mark": {"type": "rule", "stroke": "#262626", "strokeWidth": 3},
     "encoding": {"y": {"datum": 0.95, "type": "quantitative", "axis": null}}}
   ]
  }
 ]
}
